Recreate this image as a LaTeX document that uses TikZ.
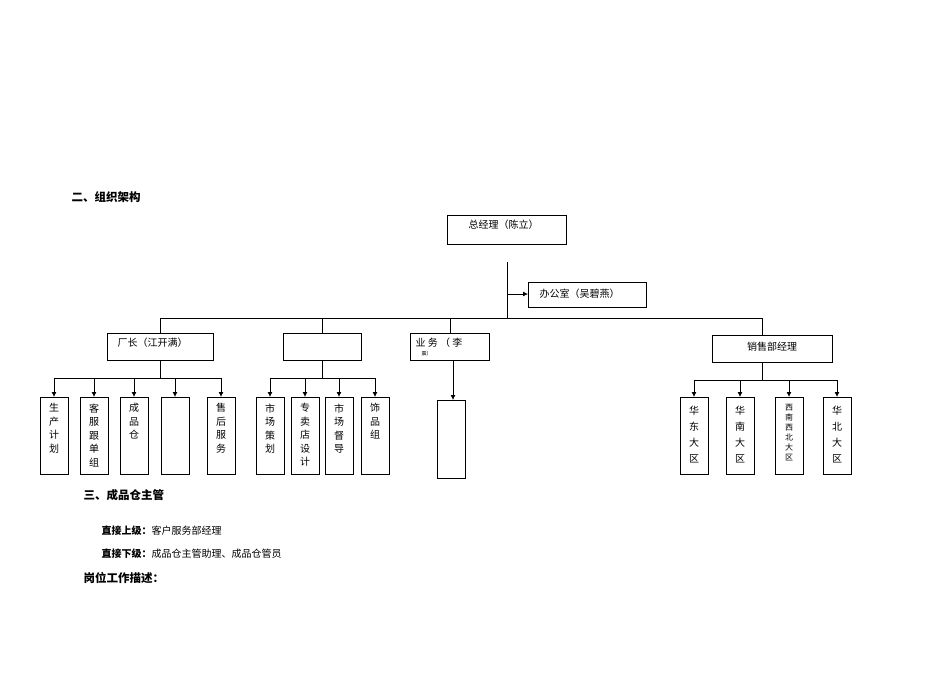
\documentclass[tikz,border=0pt]{standalone}
\usepackage{fontspec}
\setmainfont{Noto Sans CJK SC}
\usetikzlibrary{arrows.meta}
\begin{document}
\begin{tikzpicture}[x=1pt,y=-1pt,
  bx/.style={draw,line width=0.8pt},
  ln/.style={line width=0.8pt},
  ar/.style={line width=0.8pt,-{Latex[length=5pt,width=5pt]}},
  vt/.style={font=\fontsize{10}{13.5}\selectfont,align=center,anchor=north},
  tx/.style={font=\fontsize{10}{12}\selectfont,anchor=west},
  hd/.style={font=\fontsize{11.5}{13}\selectfont\bfseries,anchor=west}]
\useasboundingbox (0,0) rectangle (950,672);
\node[hd] (h1) at (68,197) {二、组织架构};
% top
\draw[bx] (447,215) rectangle (566,244);
\node[tx] (gm) at (465,225) {总经理（陈立）};
\coordinate (t0) at (507,262);
\coordinate (t1) at (507,318);
\draw[ln] (t0) -- (t1);
\draw[bx] (528,282) rectangle (646,307);
\node[tx] (of) at (536,294) {办公室（吴碧燕）};
\coordinate (oa) at (507,294);
\draw[ar] (oa) -- (528,294);
\draw[ln] (160,318) -- (762,318);
\foreach \x/\y in {160/333,322/333,450/333,762/335} \draw[ln] (\x,318) -- (\x,\y);
% level 2 boxes
\draw[bx] (107,333) rectangle (213,360);
\node[tx] (cz) at (114,343) {厂长（江开满）};
\draw[bx] (283,333) rectangle (361,360);
\draw[bx] (410,333) rectangle (489,360);
\node[tx] (yw) at (412,343) {业 务 （ 李};
\node[font=\fontsize{5}{5}\selectfont,anchor=west] (yw2) at (418,354) {震）};
\draw[bx] (712,335) rectangle (832,362);
\node[font=\fontsize{10}{12}\selectfont] (xs) at (772,347) {销售部经理};
% factory children
\draw[ln] (160,360) -- (160,378);
\draw[ln] (54,378) -- (221,378);
\foreach \c/\t in {54/{生\\产\\计\\划},94/{客\\服\\跟\\单\\组},134/{成\\品\\仓},175/{},221/{售\\后\\服\\务}}{
  \draw[ar] (\c,378) -- (\c,397);
  \draw[bx] (\c-14,397) rectangle (\c+14,474);
  \node[vt] at (\c,400) {\t};
}
% middle children
\draw[ln] (322,360) -- (322,378);
\draw[ln] (270,378) -- (375,378);
\foreach \c/\t in {270/{市\\场\\策\\划},305/{专\\卖\\店\\设\\计},339/{市\\场\\督\\导},375/{饰\\品\\组}}{
  \draw[ar] (\c,378) -- (\c,397);
  \draw[bx] (\c-14,397) rectangle (\c+14,474);
  \node[vt] at (\c,400) {\t};
}
% business
\draw[ar] (453,360) -- (453,400);
\draw[bx] (437,400) rectangle (465,478);
% sales children
\draw[ln] (762,362) -- (762,380);
\draw[ln] (694,380) -- (837,380);
\foreach \c/\t in {694/{华\\东\\大\\区},740/{华\\南\\大\\区},837/{华\\北\\大\\区}}{
  \draw[ar] (\c,380) -- (\c,397);
  \draw[bx] (\c-14,397) rectangle (\c+14,474);
  \node[font=\fontsize{10}{16}\selectfont,align=center,anchor=north] at (\c,403) {\t};
}
\draw[ar] (789,380) -- (789,397);
\draw[bx] (775,397) rectangle (803,474);
\node[font=\fontsize{8}{10}\selectfont,align=center,anchor=north] (xn) at (789,401) {西\\南\\西\\北\\大\\区};
% bottom text
\node[hd] (h2) at (80,495) {三、成品仓主管};
\node[tx] (s1) at (98,531) {\textbf{直接上级：}客户服务部经理};
\node[tx] (s2) at (98,554) {\textbf{直接下级：}成品仓主管助理、成品仓管员};
\node[hd] (h3) at (80,578) {岗位工作描述：};
\end{tikzpicture}
\end{document}
